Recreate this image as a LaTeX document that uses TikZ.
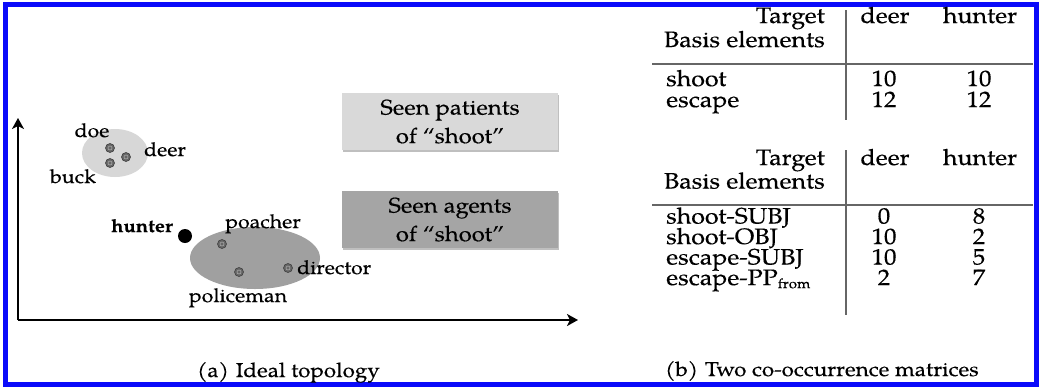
\documentclass[tikz,border=0pt]{standalone}
\usepackage{fontspec}
\setmainfont{TeX Gyre Pagella}[FakeStretch=1.12, FakeBold=0.3]
\usetikzlibrary{shapes.geometric,arrows.meta,shadows}
\definecolor{frameblue}{RGB}{10,10,250}
\definecolor{lightfill}{RGB}{217,217,217}
\definecolor{darkfill}{RGB}{165,165,165}
\definecolor{ellL}{RGB}{215,215,215}
\definecolor{ellD}{RGB}{160,160,160}
\begin{document}
\begin{tikzpicture}[x=1pt,y=-1pt,
  lbl/.style={font=\fontsize{19}{19}\selectfont, inner sep=0pt},
  tbl/.style={font=\fontsize{22.3}{22.3}\selectfont, inner sep=0pt},
  captext/.style={font=\fontsize{20}{20}\selectfont, inner sep=0pt},
  seenbox/.style={font=\fontsize{21.3}{28.5}\selectfont, align=center, inner sep=0pt,
    minimum width=216pt, minimum height=57pt,
    drop shadow={shadow xshift=0.5pt, shadow yshift=-2pt, opacity=0.25, fill=black}},
  pt/.style={circle, minimum size=9pt, inner sep=0pt, fill=black!60, draw=black!75, line width=0.6pt,
    path picture={\draw[black!30,line width=0.5pt] (path picture bounding box.center) circle (2pt);}},
  axis/.style={line width=2pt, -{Stealth[length=11pt,width=12pt,inset=3pt]}},
  rulestyle/.style={line width=1.2pt, black!60}
]
\useasboundingbox (0,0) rectangle (1039,389);
\fill[white] (0,0) rectangle (1039,389);
\draw[frameblue, line width=5pt] (5.5,4.5) rectangle (1036,384.5);

% axes
\coordinate (O) at (18,320);
\coordinate (ytip) at (18,118);
\coordinate (xtip) at (578,320);
\draw[axis] (O) -- (ytip);
\draw[axis] (O) -- (xtip);

% clusters
\node[ellipse, fill=ellL, minimum width=66pt, minimum height=48pt, inner sep=0pt] (gL) at (115,153) {};
\node[ellipse, fill=ellD, minimum width=130pt, minimum height=62pt, inner sep=0pt] (gD) at (255,258) {};

\node[pt] (doe) at (110,148) {};
\node[pt] (deer) at (126,157) {};
\node[pt] (buck) at (110,163) {};
\node[pt] (poacher) at (222,244) {};
\node[pt] (policeman) at (239,272) {};
\node[pt] (director) at (288,268) {};
\node[circle, fill=black, minimum size=14pt, inner sep=0pt] (hunterdot) at (185,236) {};

\node[lbl, anchor=base] (doeL) at (92,137) {doe};
\node[lbl, anchor=base] (deerL) at (165,156) {deer};
\node[lbl, anchor=base] (buckL) at (73,183) {buck};
\node[lbl, anchor=base, font=\fontsize{18}{18}\selectfont\bfseries] (hunterL) at (142,232) {hunter};
\node[lbl, anchor=base] (poacherL) at (263,228) {poacher};
\node[lbl, anchor=base] (policemanL) at (238,302) {policeman};
\node[lbl, anchor=base west] (directorL) at (297,274) {director};

% boxes
\node[seenbox, fill=lightfill] (patients) at (450,121.5) {Seen patients\\of “shoot”};
\node[seenbox, fill=darkfill] (agents) at (450,219.5) {Seen agents\\of “shoot”};

% table 1
\node[tbl, anchor=base east] (aTarget) at (825,23) {Target};
\node[tbl, anchor=base east] (aBasis) at (825,47) {Basis elements};
\node[tbl, anchor=base] (aDeer) at (885,23) {deer};
\node[tbl, anchor=base] (aHunter) at (980,23) {hunter};
\node[tbl, anchor=base west] (aR1) at (666,86) {shoot};
\node[tbl, anchor=base west] (aR2) at (666,107) {escape};
\node[tbl, anchor=base] (a11) at (884,86) {10};
\node[tbl, anchor=base] (a12) at (979,86) {10};
\node[tbl, anchor=base] (a21) at (884,107) {12};
\node[tbl, anchor=base] (a22) at (979,107) {12};
\coordinate (aHl) at (652,64);
\coordinate (aHr) at (1033,64);
\coordinate (aVt) at (846,10);
\coordinate (aVb) at (846,120);
\draw[rulestyle] (aHl) -- (aHr);
\draw[rulestyle] (aVt) -- (aVb);

% table 2
\node[tbl, anchor=base east] (bTarget) at (825,165) {Target};
\node[tbl, anchor=base east] (bBasis) at (825,188.5) {Basis elements};
\node[tbl, anchor=base] (bDeer) at (885,165) {deer};
\node[tbl, anchor=base] (bHunter) at (980,165) {hunter};
\node[tbl, anchor=base west] (bR1) at (666,223.5) {shoot-SUBJ};
\node[tbl, anchor=base west] (bR2) at (666,244) {shoot-OBJ};
\node[tbl, anchor=base west] (bR3) at (666,264.5) {escape-SUBJ};
\node[tbl, anchor=base west] (bR4) at (666,285) {escape-PP\raisebox{-0.3ex}{\fontsize{13.5}{13.5}\selectfont from}};
\node[tbl, anchor=base] (b11) at (884,223.5) {0};
\node[tbl, anchor=base] (b12) at (979,223.5) {8};
\node[tbl, anchor=base] (b21) at (884,244) {10};
\node[tbl, anchor=base] (b22) at (979,244) {2};
\node[tbl, anchor=base] (b31) at (884,264.5) {10};
\node[tbl, anchor=base] (b32) at (979,264.5) {5};
\node[tbl, anchor=base] (b41) at (884,285) {2};
\node[tbl, anchor=base] (b42) at (979,285) {7};
\coordinate (bHl) at (652,205);
\coordinate (bHr) at (1033,205);
\coordinate (bVt) at (846,150);
\coordinate (bVb) at (846,315);
\draw[rulestyle] (bHl) -- (bHr);
\draw[rulestyle] (bVt) -- (bVb);

% captions
\node[captext, anchor=base west] (capA) at (197,377) {(a)\hspace{0.35em}Ideal topology};
\node[captext, anchor=base west] (capB) at (665,376) {(b)\hspace{0.35em}Two co-occurrence matrices};
\end{tikzpicture}
\end{document}
